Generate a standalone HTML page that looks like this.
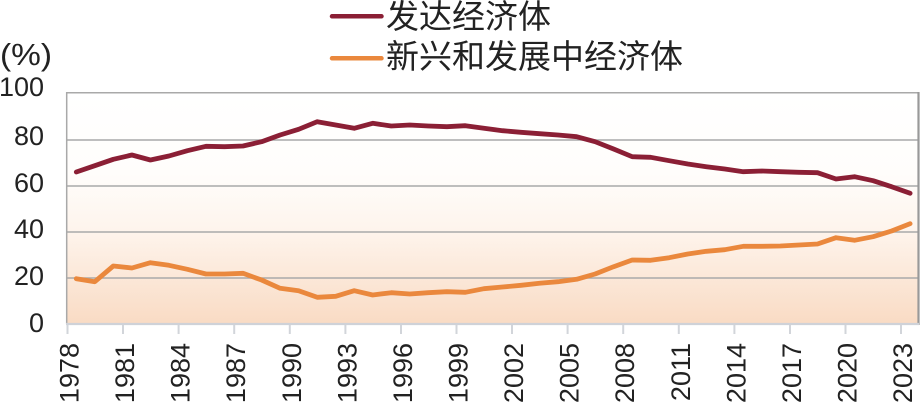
<!DOCTYPE html>
<html><head><meta charset="utf-8"><style>
html,body{margin:0;padding:0;background:#fff;}
svg{display:block;}
text{font-family:"Liberation Sans","Noto Sans CJK SC",sans-serif;fill:#222;}
</style></head><body>
<svg width="920" height="408" viewBox="0 0 920 408" xmlns="http://www.w3.org/2000/svg">
<defs>
<linearGradient id="bg" x1="0" y1="93" x2="0" y2="324" gradientUnits="userSpaceOnUse">
<stop offset="0" stop-color="#ffffff"/>
<stop offset="0.35" stop-color="#fffdfb"/>
<stop offset="0.6" stop-color="#fef4ec"/>
<stop offset="1" stop-color="#f9dbc4"/>
</linearGradient>
</defs>
<rect x="67" y="93" width="852" height="231" fill="url(#bg)"/>
<g stroke="#a9a9a9" stroke-width="1.5">
<line x1="67" y1="140" x2="919" y2="140"/>
<line x1="67" y1="186" x2="919" y2="186"/>
<line x1="67" y1="232" x2="919" y2="232"/>
<line x1="67" y1="278" x2="919" y2="278"/>
<line x1="66" y1="92.7" x2="919" y2="92.7"/>
<line x1="66.7" y1="92" x2="66.7" y2="324"/>
</g>
<line x1="918.5" y1="92" x2="918.5" y2="325" stroke="#999" stroke-width="2.2"/>
<line x1="66" y1="324" x2="919" y2="324" stroke="#cfd2d8" stroke-width="2.2"/>
<g stroke="#d2d5da" stroke-width="2">
<line x1="67.5" y1="325" x2="67.5" y2="334"/>
<line x1="123" y1="325" x2="123" y2="334"/>
<line x1="178.6" y1="325" x2="178.6" y2="334"/>
<line x1="234.2" y1="325" x2="234.2" y2="334"/>
<line x1="289.8" y1="325" x2="289.8" y2="334"/>
<line x1="345.4" y1="325" x2="345.4" y2="334"/>
<line x1="401" y1="325" x2="401" y2="334"/>
<line x1="456.5" y1="325" x2="456.5" y2="334"/>
<line x1="512" y1="325" x2="512" y2="334"/>
<line x1="567.6" y1="325" x2="567.6" y2="334"/>
<line x1="623.2" y1="325" x2="623.2" y2="334"/>
<line x1="678.8" y1="325" x2="678.8" y2="334"/>
<line x1="734.4" y1="325" x2="734.4" y2="334"/>
<line x1="790" y1="325" x2="790" y2="334"/>
<line x1="845.5" y1="325" x2="845.5" y2="334"/>
<line x1="901" y1="325" x2="901" y2="334"/>
</g>
<polyline fill="none" stroke="#8b1f35" stroke-width="4.8" stroke-linejoin="round" stroke-linecap="round" points="76.3,172 94.8,165.7 113.3,159.3 131.9,155 150.4,160 168.9,156 187.4,150.7 206,146.3 224.5,146.7 243,146 261.6,141.7 280.1,135 298.6,129.3 317.2,121.7 335.7,125 354.2,128.3 372.7,123.3 391.3,126 409.8,125 428.3,126 446.9,126.7 465.4,125.7 483.9,128.3 502.5,130.7 521,132.3 539.5,133.7 558,135 576.6,136.7 595.1,141.7 613.6,149 632.2,156.7 650.7,157.3 669.2,160.7 687.8,164 706.3,166.7 724.8,169 743.3,171.7 761.9,171 780.4,171.7 798.9,172.3 817.5,172.7 836,179 854.5,176.7 873.1,180.7 891.6,186.7 910.1,193.3"/>
<polyline fill="none" stroke="#ea883d" stroke-width="4.8" stroke-linejoin="round" stroke-linecap="round" points="76.3,278.7 94.8,281.7 113.3,266 131.9,268 150.4,262.7 168.9,265.3 187.4,269.3 206,274 224.5,274 243,273.3 261.6,280 280.1,288.3 298.6,290.7 317.2,297.3 335.7,296.3 354.2,290.7 372.7,295 391.3,292.7 409.8,294 428.3,292.7 446.9,291.7 465.4,292.3 483.9,288.7 502.5,287 521,285.3 539.5,283.3 558,281.7 576.6,279.3 595.1,274 613.6,266.7 632.2,260 650.7,260.3 669.2,257.7 687.8,254 706.3,251.3 724.8,249.7 743.3,246.3 761.9,246.3 780.4,246 798.9,245 817.5,244 836,237.7 854.5,240.3 873.1,236.7 891.6,231 910.1,223.7"/>
<g font-size="27" text-anchor="end">
<text x="44" y="96">100</text>
<text x="44" y="145">80</text>
<text x="44" y="192">60</text>
<text x="44" y="238">40</text>
<text x="44" y="285">20</text>
<text x="44" y="332">0</text>
</g>
<text x="0" y="65" font-size="31" textLength="52" lengthAdjust="spacingAndGlyphs">(%)</text>
<g font-size="27" text-anchor="end">
<text transform="translate(78.5,343) rotate(-90)">1978</text>
<text transform="translate(134,343) rotate(-90)">1981</text>
<text transform="translate(189.6,343) rotate(-90)">1984</text>
<text transform="translate(245.2,343) rotate(-90)">1987</text>
<text transform="translate(300.8,343) rotate(-90)">1990</text>
<text transform="translate(356.4,343) rotate(-90)">1993</text>
<text transform="translate(412,343) rotate(-90)">1996</text>
<text transform="translate(467.5,343) rotate(-90)">1999</text>
<text transform="translate(523,343) rotate(-90)">2002</text>
<text transform="translate(578.6,343) rotate(-90)">2005</text>
<text transform="translate(634.2,343) rotate(-90)">2008</text>
<text transform="translate(689.8,343) rotate(-90)">2011</text>
<text transform="translate(745.4,343) rotate(-90)">2014</text>
<text transform="translate(801,343) rotate(-90)">2017</text>
<text transform="translate(856.5,343) rotate(-90)">2020</text>
<text transform="translate(912,343) rotate(-90)">2023</text>
</g>
<line x1="332" y1="16.3" x2="381.5" y2="16.3" stroke="#8b1f35" stroke-width="4.5" stroke-linecap="round"/>
<line x1="332" y1="58.3" x2="381.5" y2="58.3" stroke="#ea883d" stroke-width="4.5" stroke-linecap="round"/>
<g font-size="33">
<text x="386" y="28">发达经济体</text>
<text x="386" y="68">新兴和发展中经济体</text>
</g>
</svg>
</body></html>
